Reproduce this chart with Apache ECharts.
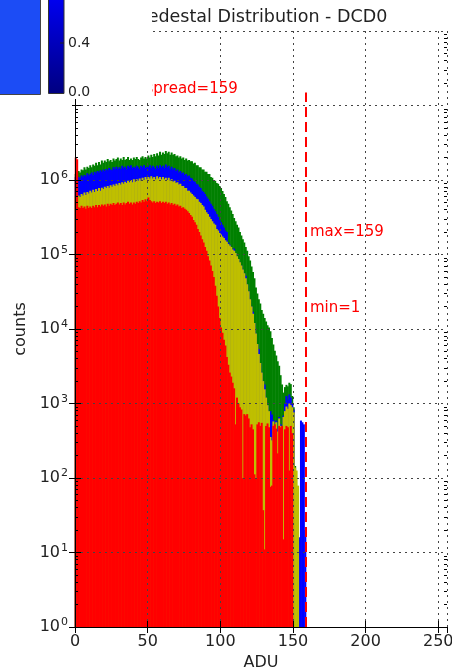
<!DOCTYPE html>
<html>
<head>
<meta charset="utf-8">
<script src="https://cdn.jsdelivr.net/npm/echarts@6/dist/echarts.min.js"></script>
<style>
  html, body { margin: 0; padding: 0; background: #fff; }
  #chart { width: 452px; height: 672px; }
</style>
</head>
<body>
<div id="chart"></div>
<script>
// pedestal histograms, one count per ADU bin (index = ADU)
var greenCounts = [
  1.2e6,1.3e6,1.32e6,1.26e6,1.38e6,1.35e6,1.48e6,1.38e6,1.51e6,1.45e6,
  1.58e6,1.48e6,1.62e6,1.55e6,1.7e6,1.58e6,1.74e6,1.62e6,1.82e6,1.7e6,
  1.82e6,1.74e6,1.91e6,1.78e6,1.86e6,1.74e6,1.95e6,1.82e6,1.91e6,2.0e6,
  1.82e6,1.95e6,1.86e6,2.04e6,1.86e6,1.91e6,2.04e6,1.86e6,1.95e6,1.86e6,
  2.0e6,1.91e6,2.04e6,1.91e6,1.86e6,2.0e6,2.09e6,1.95e6,2.04e6,1.95e6,
  2.14e6,2.0e6,2.19e6,2.04e6,2.24e6,2.09e6,2.29e6,2.14e6,2.4e6,2.19e6,
  2.34e6,2.24e6,2.45e6,2.29e6,2.4e6,2.19e6,2.34e6,2.19e6,2.24e6,2.09e6,
  2.14e6,2.0e6,2.09e6,1.95e6,2.0e6,1.86e6,1.95e6,1.82e6,1.86e6,1.78e6,
  1.78e6,1.66e6,1.7e6,1.58e6,1.58e6,1.48e6,1.48e6,1.38e6,1.38e6,1.29e6,
  1.29e6,1.2e6,1.2e6,1.1e6,1.07e6,1.0e6,9.8e5,9.1e5,8.9e5,8.3e5,
  7.8e5,7.1e5,6.5e5,5.9e5,5.2e5,4.8e5,4.3e5,3.9e5,3.5e5,3.1e5,
  2.8e5,2.5e5,2.3e5,2.0e5,1.8e5,1.6e5,1.45e5,1.26e5,1.12e5,9.5e4,
  8.3e4,6.9e4,5.8e4,4.8e4,3.6e4,3.0e4,2.5e4,2.2e4,1.8e4,1.6e4,
  1.4e4,1.26e4,1.12e4,1.05e4,9.3e3,7.6e3,6.2e3,5.1e3,4.4e3,3.7e3,
  3.2e3,2.4e3,1.8e3,1.4e3,1.66e3,1.78e3,1.7e3,1.9e3,1.82e3,1.26e3,
  890,145
];
var blueCounts = [
  1.1e6,1.15e6,1.1e6,1.05e6,1.15e6,1.1e6,1.17e6,1.12e6,1.23e6,1.15e6,
  1.2e6,1.26e6,1.17e6,1.29e6,1.23e6,1.32e6,1.26e6,1.35e6,1.29e6,1.38e6,
  1.32e6,1.41e6,1.35e6,1.45e6,1.38e6,1.35e6,1.48e6,1.41e6,1.51e6,1.41e6,
  1.48e6,1.41e6,1.55e6,1.45e6,1.51e6,1.41e6,1.55e6,1.48e6,1.58e6,1.45e6,
  1.51e6,1.45e6,1.55e6,1.48e6,1.41e6,1.55e6,1.48e6,1.58e6,1.45e6,1.51e6,
  1.48e6,1.58e6,1.45e6,1.55e6,1.48e6,1.41e6,1.55e6,1.45e6,1.58e6,1.48e6,
  1.55e6,1.45e6,1.62e6,1.48e6,1.55e6,1.41e6,1.51e6,1.38e6,1.45e6,1.32e6,
  1.38e6,1.26e6,1.32e6,1.23e6,1.26e6,1.17e6,1.2e6,1.12e6,1.15e6,1.07e6,
  1.05e6,9.8e5,9.5e5,8.9e5,8.7e5,8.1e5,7.8e5,7.2e5,6.9e5,6.5e5,
  6.0e5,5.6e5,5.2e5,4.8e5,4.5e5,4.1e5,3.8e5,3.5e5,3.2e5,2.9e5,
  2.7e5,2.5e5,2.3e5,2.1e5,2.0e5,1.45e5,1.35e5,1.26e5,1.17e5,1.2e5,
  1.05e5,9.5e4,8.7e4,7.9e4,7.1e4,6.3e4,5.6e4,5.2e4,4.0e4,3.2e4,
  2.5e4,2.0e4,1.7e4,1.2e4,8.7e3,6.3e3,5.4e3,3.5e3,2.6e3,2.0e3,
  1.8e3,1.2e3,950,790,790,710,600,500,590,460,
  660,525,316,690,1000,1260,1120,1320,1200,1000,
  830,100,63,16,16,590,560,525,20
];
var yellowCounts = [
  6.0e5,5.6e5,6.2e5,5.9e5,6.5e5,6.2e5,6.8e5,6.3e5,6.9e5,6.6e5,
  7.2e5,6.8e5,7.4e5,6.9e5,7.6e5,7.1e5,7.8e5,7.2e5,7.9e5,7.6e5,
  8.1e5,7.8e5,8.3e5,7.9e5,8.5e5,8.1e5,8.7e5,8.3e5,8.9e5,8.5e5,
  9.1e5,8.7e5,9.3e5,8.9e5,9.5e5,9.1e5,9.8e5,9.3e5,1.0e6,9.3e5,
  1.02e6,9.5e5,1.02e6,9.8e5,1.05e6,9.8e5,1.07e6,1.0e6,1.1e6,1.02e6,
  1.1e6,1.05e6,1.12e6,1.05e6,1.1e6,1.02e6,1.12e6,1.05e6,1.1e6,1.02e6,
  1.1e6,1.02e6,1.07e6,1.0e6,1.07e6,9.8e5,1.02e6,9.5e5,9.8e5,9.1e5,
  9.3e5,8.7e5,8.9e5,8.3e5,8.3e5,7.8e5,7.8e5,7.2e5,7.2e5,6.8e5,
  6.5e5,6.2e5,5.9e5,5.6e5,5.5e5,5.1e5,4.9e5,4.6e5,4.4e5,4.0e5,
  3.7e5,3.5e5,3.2e5,3.0e5,2.8e5,2.6e5,2.5e5,2.2e5,2.1e5,1.95e5,
  1.86e5,1.74e5,1.66e5,1.55e5,1.48e5,1.38e5,1.32e5,1.26e5,1.17e5,1.12e5,
  1.05e5,9.5e4,8.7e4,7.9e4,7.1e4,6.3e4,5.6e4,4.8e4,4.0e4,3.2e4,
  2.5e4,2.0e4,1.6e4,1.2e4,8.7e3,6.3e3,4.6e3,3.5e3,2.6e3,2.0e3,
  1.55e3,1.2e3,950,790,355,320,575,480,560,420,
  630,500,235,660,790,910,850,1000,950,890,
  760,138,126,79
];
var redCounts = [
  2.0e6,1.9e6,4.3e5,4.2e5,4.5e5,4.2e5,4.4e5,4.1e5,4.5e5,4.2e5,
  4.4e5,4.2e5,4.5e5,4.3e5,4.6e5,4.3e5,4.6e5,4.4e5,4.7e5,4.5e5,
  4.7e5,4.4e5,4.8e5,4.5e5,4.8e5,4.6e5,4.9e5,4.6e5,4.8e5,5.0e5,
  4.7e5,4.9e5,4.6e5,5.0e5,4.7e5,4.9e5,5.1e5,4.8e5,5.0e5,4.7e5,
  5.0e5,4.8e5,5.1e5,4.9e5,5.2e5,5.0e5,5.4e5,5.1e5,5.5e5,5.2e5,
  5.8e5,5.4e5,5.2e5,5.0e5,5.2e5,4.9e5,5.1e5,5.0e5,5.2e5,4.9e5,
  5.1e5,4.9e5,5.1e5,4.8e5,5.0e5,4.7e5,4.9e5,4.6e5,4.8e5,4.5e5,
  4.7e5,4.4e5,4.5e5,4.2e5,4.3e5,4.1e5,4.0e5,3.8e5,3.6e5,3.4e5,
  3.2e5,2.9e5,2.7e5,2.5e5,2.2e5,2.0e5,1.8e5,1.6e5,1.45e5,1.26e5,
  1.12e5,9.5e4,8.3e4,7.1e4,6.0e4,5.0e4,3.8e4,2.8e4,2.0e4,1.4e4,
  1.05e4,8.9e3,7.2e3,6.0e3,4.2e3,3.3e3,2.6e3,2.3e3,1.9e3,1.6e3,
  525,1.2e3,1.0e3,890,830,100,720,690,720,630,
  480,525,450,112,100,525,560,500,550,37,
  11,500,540,480,76,79,500,525,460,214,
  500,480,500,15,450,500,480,126,500,400
];

var xTicks = [0, 50, 100, 150, 200, 250];
var yDecades = [0, 1, 2, 3, 4, 5, 6, 7, 8];
var minorMult = [2, 3, 4, 5, 6, 7, 8, 9];
var lineAdu = 159;      // dashed line position
var lineTop = 1.5e7;    // dashed line top (counts)

var FONT = '"DejaVu Sans", sans-serif';

// minor tick positions on the log axis, in decades
var minorLog = [];
yDecades.slice(0, -1).forEach(function (d) {
    minorMult.forEach(function (m) { minorLog.push(d + Math.log10(m)); });
});

function toBars(counts) {
    return counts.map(function (c, i) { return [i + 0.5, c]; });
}

function barSeries(name, counts, color) {
    return {
        name: name,
        type: 'bar',
        xAxisIndex: 0,
        yAxisIndex: 0,
        data: toBars(counts),
        barWidth: 2,
        barGap: '-100%',
        itemStyle: { color: color },
        silent: true
    };
}

var chart = echarts.init(document.getElementById('chart'));

var gridLine = { show: true, lineStyle: { color: '#444', width: 1, type: [2, 4] } };
var frame = { show: true, lineStyle: { color: '#000', width: 1 } };

var series = [
    barSeries('all', greenCounts, '#008000'),
    barSeries('b', blueCounts, '#0000ff'),
    barSeries('y', yellowCounts, '#bfbf00'),
    barSeries('r', redCounts, '#ff0000')
];
series[3].markLine = {
    silent: true,
    symbol: 'none',
    label: { show: false },
    lineStyle: { color: '#ff0000', width: 2, type: [10, 5] },
    data: [[{ coord: [lineAdu, 1] }, { coord: [lineAdu, lineTop] }]]
};

var option = {
    animation: false,
    backgroundColor: '#fff',
    textStyle: { fontFamily: FONT },
    grid: { left: 75, right: 5, top: 31, bottom: 45, outerBoundsMode: 'none', containLabel: false },
    xAxis: [
        {
            type: 'value', position: 'bottom', min: 0, max: 256, interval: 50, z: 10,
            axisLine: frame,
            axisTick: { show: true, inside: true, length: 6, lineStyle: { color: '#000' } },
            axisLabel: {
                show: true, margin: 7, fontSize: 16, color: '#222', fontFamily: FONT,
                showMaxLabel: false,
                formatter: function (v) { return xTicks.indexOf(v) >= 0 ? String(v) : ''; }
            },
            splitLine: gridLine,
            name: 'ADU', nameLocation: 'middle', nameGap: 24,
            nameTextStyle: { fontSize: 16, color: '#222', fontFamily: FONT }
        },
        {
            type: 'value', position: 'top', min: 0, max: 256, interval: 50, z: 10,
            axisLine: frame,
            axisTick: { show: true, inside: true, length: 6, lineStyle: { color: '#000' } },
            axisLabel: { show: false },
            splitLine: { show: false }
        }
    ],
    yAxis: [
        {
            type: 'log', logBase: 10, min: 1, max: 1e8, position: 'left', z: 10,
            axisLine: frame,
            axisTick: { show: true, inside: true, length: 6, lineStyle: { color: '#000' } },
            axisLabel: {
                show: true, margin: 7, color: '#222', fontFamily: FONT,
                formatter: function (v) {
                    return '{b|10}{s|' + Math.round(Math.log10(v)) + '}';
                },
                rich: {
                    b: { fontSize: 16, color: '#222', fontFamily: FONT },
                    s: { fontSize: 11, color: '#222', fontFamily: FONT, padding: [0, 0, 9, 1] }
                }
            },
            splitLine: gridLine,
            name: 'counts', nameLocation: 'middle', nameGap: 43, nameRotate: 90,
            nameTextStyle: { fontSize: 16, color: '#222', fontFamily: FONT }
        },
        {
            type: 'log', logBase: 10, min: 1, max: 1e8, position: 'right', z: 10,
            axisLine: frame,
            axisTick: { show: true, inside: true, length: 6, lineStyle: { color: '#000' } },
            axisLabel: { show: false },
            splitLine: { show: false }
        },
        {
            type: 'value', min: 0, max: 8, position: 'left', z: 10,
            axisLine: { show: false },
            axisTick: { show: true, inside: true, length: 3, customValues: minorLog, lineStyle: { color: '#000' } },
            axisLabel: { show: false },
            splitLine: { show: false }
        },
        {
            type: 'value', min: 0, max: 8, position: 'right', z: 10,
            axisLine: { show: false },
            axisTick: { show: true, inside: true, length: 3, customValues: minorLog, lineStyle: { color: '#000' } },
            axisLabel: { show: false },
            splitLine: { show: false }
        }
    ],
    series: series,
    graphic: [
        {
            type: 'text', x: 262.5, y: 17, z: 50,
            style: { text: 'Pedestal Distribution - DCD0', font: '17.5px ' + FONT, fill: '#222',
                     textAlign: 'center', textVerticalAlign: 'middle' }
        },
        {
            type: 'text', x: 145.5, y: 89, z: 50,
            style: { text: 'spread=159', font: '15px ' + FONT, fill: '#ff0000', textVerticalAlign: 'middle' }
        },
        {
            type: 'text', x: 310, y: 232, z: 50,
            style: { text: 'max=159', font: '15px ' + FONT, fill: '#ff0000', textVerticalAlign: 'middle' }
        },
        {
            type: 'text', x: 310, y: 308, z: 50,
            style: { text: 'min=1', font: '15px ' + FONT, fill: '#ff0000', textVerticalAlign: 'middle' }
        },
        // neighbouring panel (image + colorbar) overlapping the top-left corner
        { type: 'rect', z: 100, shape: { x: 0, y: 0, width: 152, height: 99 }, style: { fill: '#fff' } },
        { type: 'rect', z: 100, shape: { x: 0, y: 0, width: 72, height: 150 }, style: { fill: '#fff' } },
        {
            type: 'rect', z: 101, shape: { x: -1, y: -1, width: 41.5, height: 95.5 },
            style: { fill: '#1c4cf5', stroke: '#444', lineWidth: 1 }
        },
        {
            type: 'rect', z: 101, shape: { x: 48.5, y: -1, width: 15.5, height: 94.5 },
            style: {
                fill: new echarts.graphic.LinearGradient(0, 0, 0, 1, [
                    { offset: 0, color: '#0000f0' }, { offset: 1, color: '#000080' }
                ]),
                stroke: '#333', lineWidth: 1
            }
        },
        { type: 'line', z: 102, shape: { x1: 60, y1: 43, x2: 64, y2: 43 }, style: { stroke: '#222', lineWidth: 1 } },
        {
            type: 'text', x: 68, y: 43, z: 102,
            style: { text: '0.4', font: '14px ' + FONT, fill: '#222', textVerticalAlign: 'middle' }
        },
        {
            type: 'text', x: 68, y: 92, z: 102,
            style: { text: '0.0', font: '14px ' + FONT, fill: '#222', textVerticalAlign: 'middle' }
        }
    ]
};

chart.setOption(option);
</script>
</body>
</html>
